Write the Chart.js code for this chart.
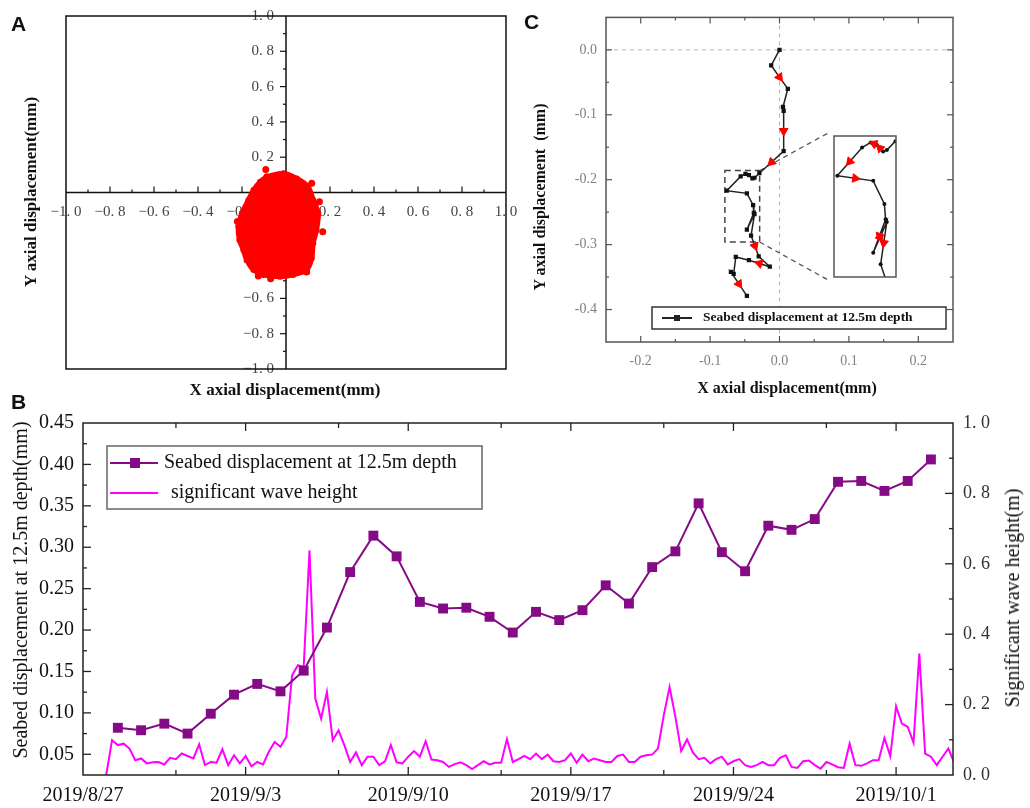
<!DOCTYPE html>
<html>
<head>
<meta charset="utf-8">
<title>Seabed displacement</title>
<script src="https://cdn.jsdelivr.net/npm/chart.js@4.4.1/dist/chart.umd.min.js"></script>
<style>
  body { margin: 0; background: #fff; }
  #fig { position: relative; width: 1030px; height: 808px; overflow: hidden; font-family: "Liberation Serif", "Times New Roman", serif; color: #111; }
  #fig canvas { position: absolute; }
  .lbl { position: absolute; white-space: pre; line-height: 1; transform: translate(-50%, -50%); }
  .up { transform: translate(-50%, -50%) rotate(-90deg); }
  .b { font-weight: bold; }
  .letter { position: absolute; line-height: 1; font: bold 21px "Liberation Sans", Arial, sans-serif; }
</style>
</head>
<body>
<div id="fig">
  <canvas id="chartA" width="520" height="400" style="left:0px;top:0px"></canvas>
  <canvas id="chartC" width="510" height="400" style="left:520px;top:0px"></canvas>
  <canvas id="chartInset" width="74" height="153" style="left:828px;top:130px"></canvas>
  <canvas id="chartB" width="1030" height="408" style="left:0px;top:400px"></canvas>

  <div class="letter" style="left:11px;top:12px">A</div>
  <div class="letter" style="left:11px;top:390px">B</div>
  <div class="letter" style="left:524px;top:10px">C</div>

  <div class="lbl b" style="left:285px;top:389px;font-size:17px">X axial displacement(mm)</div>
  <div class="lbl b up" style="left:30px;top:192px;font-size:17px">Y axial displacement(mm)</div>
  <div class="lbl b" style="left:787px;top:388px;font-size:16px">X axial displacement(mm)</div>
  <div class="lbl b up" style="left:540px;top:197px;font-size:16px">Y axial displacement  (mm)</div>
  <div class="lbl up" style="left:20px;top:590px;font-size:20px">Seabed displacement at 12.5m depth(mm)</div>
  <div class="lbl up" style="left:1012px;top:598px;font-size:20px">Significant wave height(m)</div>
</div>

<script>
var SERIF = '"Liberation Serif", "Times New Roman", serif';

//////////////////////////////// DATA ////////////////////////////////

// panel A : outline of the red point cloud (mm) plus a few stray points
var cloudX = [-0.088, -0.012, 0.049, 0.101, 0.124, 0.147, 0.139, 0.124, 0.117, 0.094, 0.033, -0.027,
              -0.103, -0.148, -0.179, -0.194, -0.212, -0.217, -0.201, -0.171, -0.148, -0.118];
var cloudY = [0.090, 0.109, 0.080, 0.033, -0.042, -0.118, -0.212, -0.288, -0.373, -0.439, -0.467, -0.477,
              -0.467, -0.439, -0.382, -0.326, -0.269, -0.194, -0.118, -0.042, 0.014, 0.061];
var strayX = [-0.092, 0.117, 0.167, -0.126, -0.070, -0.221, 0.152, 0.094];
var strayY = [0.131, 0.052, -0.222, -0.473, -0.488, -0.165, -0.052, -0.450];
var ticksA = [-1.0, -0.8, -0.6, -0.4, -0.2, 0, 0.2, 0.4, 0.6, 0.8, 1.0];

// panel C : daily trajectory of the seabed point (mm)
var pathX = [0, -0.012, 0.012, 0.005, 0.006, 0.006, -0.029, -0.036, -0.039, -0.044, -0.049, -0.056, -0.076,
             -0.047, -0.038, -0.037, -0.047, -0.036, -0.041, -0.030, -0.014, -0.044, -0.063, -0.066, -0.070, -0.047];
var pathY = [0, -0.024, -0.060, -0.088, -0.094, -0.156, -0.190, -0.197, -0.198, -0.193, -0.191, -0.195, -0.217,
             -0.221, -0.239, -0.251, -0.277, -0.253, -0.286, -0.318, -0.334, -0.324, -0.319, -0.345, -0.342, -0.379];
// red arrows sit in the middle of these segments (index of segment start)
var arrowSegments = [1, 4, 5, 18, 20, 24];
var insetArrowSegments = [8, 9, 11, 12, 15, 16, 17];
// zoomed window (the dashed box)
var boxX = [-0.0787, -0.0286];
var boxY = [-0.296, -0.186];
var ticksCx = [-0.2, -0.1, 0, 0.1, 0.2];
var ticksCy = [-0.4, -0.3, -0.2, -0.1, 0];

// panel B : days counted from 2019/8/27 00:00
var dispStartDay = 1.5;            // one value per day, at noon, from 2019/8/28
var dispValues = [0.082, 0.079, 0.087, 0.075, 0.099, 0.122, 0.135, 0.126, 0.151, 0.203, 0.270, 0.314,
                  0.289, 0.234, 0.226, 0.227, 0.216, 0.197, 0.222, 0.212, 0.224, 0.254, 0.232, 0.276,
                  0.295, 0.353, 0.294, 0.271, 0.326, 0.321, 0.334, 0.379, 0.380, 0.368, 0.380, 0.406];
var waveStartDay = 1.0;            // one value every 6 hours
var waveStepDay = 0.25;
var waveValues = [
  0.000, 0.099, 0.085, 0.089, 0.075, 0.042, 0.047, 0.033, 0.036, 0.037, 0.030, 0.049,
  0.045, 0.061, 0.054, 0.047, 0.087, 0.028, 0.037, 0.035, 0.073, 0.028, 0.056, 0.033,
  0.054, 0.025, 0.037, 0.030, 0.066, 0.094, 0.080, 0.108, 0.283, 0.312, 0.307, 0.638,
  0.217, 0.160, 0.236, 0.099, 0.127, 0.085, 0.037, 0.064, 0.028, 0.052, 0.052, 0.028,
  0.039, 0.085, 0.036, 0.033, 0.052, 0.068, 0.052, 0.096, 0.044, 0.042, 0.037, 0.023,
  0.031, 0.036, 0.028, 0.017, 0.028, 0.039, 0.030, 0.035, 0.035, 0.102, 0.037, 0.045,
  0.054, 0.045, 0.061, 0.045, 0.058, 0.039, 0.037, 0.042, 0.061, 0.035, 0.058, 0.039,
  0.047, 0.042, 0.037, 0.037, 0.054, 0.058, 0.037, 0.037, 0.052, 0.056, 0.058, 0.075,
  0.170, 0.250, 0.165, 0.068, 0.101, 0.064, 0.045, 0.049, 0.033, 0.045, 0.052, 0.030,
  0.039, 0.045, 0.028, 0.023, 0.028, 0.037, 0.028, 0.028, 0.049, 0.056, 0.023, 0.020,
  0.039, 0.041, 0.028, 0.018, 0.037, 0.030, 0.022, 0.020, 0.089, 0.028, 0.026, 0.033,
  0.042, 0.042, 0.105, 0.054, 0.195, 0.146, 0.137, 0.092, 0.345, 0.061, 0.052, 0.028,
  0.052, 0.075, 0.035];
var dateTickDays = [0, 7, 14, 21, 28, 35];
var dateMinorDays = [4, 11, 18, 25, 32];
var ticksBleft = [0.05, 0.10, 0.15, 0.20, 0.25, 0.30, 0.35, 0.40, 0.45];
var ticksBright = [0, 0.2, 0.4, 0.6, 0.8, 1.0];

/////////////////////////////// HELPERS ///////////////////////////////

var dayLabel = function(day) {
  var d = new Date(2019, 7, 27 + day);
  return d.getFullYear() + '/' + (d.getMonth() + 1) + '/' + d.getDate();
};
// the figure prints "0. 8" with a wide gap after the point
var spaced = function(v) {
  return v.toFixed(1).replace('.', '. ');
};
var seg = function(ctx, x1, y1, x2, y2) {
  ctx.beginPath();
  ctx.moveTo(x1, y1);
  ctx.lineTo(x2, y2);
  ctx.stroke();
};
var fixTicks = function(list) {
  return function(scale) {
    scale.ticks = list.map(function(v) { return {value: v}; });
  };
};
var points = function(xs, ys) {
  return xs.map(function(x, i) { return {x: x, y: ys[i]}; });
};
var arrowPoints = function(segs) {
  return segs.map(function(s) {
    return {x: (pathX[s] + pathX[s + 1]) / 2, y: (pathY[s] + pathY[s + 1]) / 2};
  });
};
// turn the triangle so it points along its segment
var arrowRotation = function(segs) {
  return function(c) {
    var s = segs[c.dataIndex], xs = c.chart.scales.x, ys = c.chart.scales.y;
    if (s === undefined) return 0;
    var dx = xs.getPixelForValue(pathX[s + 1]) - xs.getPixelForValue(pathX[s]);
    var dy = ys.getPixelForValue(pathY[s + 1]) - ys.getPixelForValue(pathY[s]);
    return Math.atan2(dx, -dy) * 180 / Math.PI;
  };
};

Chart.defaults.font.family = SERIF;
Chart.defaults.animation = false;
Chart.defaults.responsive = false;
Chart.defaults.devicePixelRatio = 1;
Chart.defaults.plugins.legend.display = false;
Chart.defaults.plugins.tooltip.enabled = false;

/////////////////////////////// PANEL A ///////////////////////////////

var cloud = points(cloudX, cloudY);
cloud.push(cloud[0]);

var panelA = {
  id: 'panelA',
  beforeDatasetsDraw: function(chart) {
    var ctx = chart.ctx, xs = chart.scales.x, ys = chart.scales.y, a = chart.chartArea;
    var x0 = xs.getPixelForValue(0), y0 = ys.getPixelForValue(0);
    ctx.save();
    ctx.strokeStyle = '#111';
    ctx.lineWidth = 1.5;
    seg(ctx, a.left, y0, a.right, y0);
    seg(ctx, x0, a.top, x0, a.bottom);
    ctx.lineWidth = 1.2;
    for (var i = -9; i <= 9; i++) {
      var len = (i % 2 === 0) ? 6 : 3;
      seg(ctx, xs.getPixelForValue(i / 10), y0, xs.getPixelForValue(i / 10), y0 - len);
      seg(ctx, x0, ys.getPixelForValue(i / 10), x0 - len, ys.getPixelForValue(i / 10));
    }
    ctx.fillStyle = '#444';
    ctx.font = '15px ' + SERIF;
    ctx.textBaseline = 'middle';
    ctx.textAlign = 'center';
    ticksA.forEach(function(v) {
      if (v !== 0) ctx.fillText(spaced(v).replace('-', '\u2212'), xs.getPixelForValue(v), y0 + 20);
    });
    ctx.textAlign = 'right';
    ticksA.forEach(function(v) {
      if (v !== 0) ctx.fillText(spaced(v).replace('-', '\u2212'), x0 - 12, ys.getPixelForValue(v));
    });
    ctx.restore();
  },
  afterDatasetsDraw: function(chart) {
    var ctx = chart.ctx, a = chart.chartArea;
    ctx.save();
    ctx.strokeStyle = '#111';
    ctx.lineWidth = 1.5;
    ctx.strokeRect(a.left, a.top, a.right - a.left, a.bottom - a.top);
    ctx.restore();
  }
};

new Chart(document.getElementById('chartA'), {
  type: 'line',
  data: {
    datasets: [
      {data: points(strayX, strayY), showLine: false, pointRadius: 3.5, pointBackgroundColor: '#ff0000',
       pointBorderWidth: 0},
      {data: cloud, fill: 'shape', backgroundColor: '#ff0000', borderColor: '#ff0000', borderWidth: 5,
       tension: 0.25, pointRadius: 3, pointBackgroundColor: '#ff0000', pointBorderWidth: 0}
    ]
  },
  options: {
    layout: {padding: {left: 66, top: 16, right: 14, bottom: 31}},
    scales: {
      x: {type: 'linear', min: -1, max: 1, display: false},
      y: {type: 'linear', min: -1, max: 1, display: false}
    }
  },
  plugins: [panelA]
});

/////////////////////////////// PANEL C ///////////////////////////////

var path = points(pathX, pathY);

var drawFrameTicks = function(ctx, a, xs, ys, xStep, yStep, color) {
  ctx.save();
  ctx.strokeStyle = color;
  ctx.lineWidth = 1.5;
  ctx.strokeRect(a.left, a.top, a.right - a.left, a.bottom - a.top);
  ctx.lineWidth = 1.2;
  var v, k, len, p;
  for (k = Math.ceil(xs.min / xStep + 0.01); k * xStep < xs.max - 1e-6; k++) {
    v = k * xStep;
    len = (k % 2 === 0) ? 6 : 3;
    p = xs.getPixelForValue(v);
    seg(ctx, p, a.bottom, p, a.bottom - len);
    seg(ctx, p, a.top, p, a.top + len);
  }
  for (k = Math.ceil(ys.min / yStep + 0.01); k * yStep < ys.max - 1e-6; k++) {
    v = k * yStep;
    len = (k % 2 === 0) ? 6 : 3;
    p = ys.getPixelForValue(v);
    seg(ctx, a.left, p, a.left + len, p);
    seg(ctx, a.right, p, a.right - len, p);
  }
  ctx.restore();
};

var insetLeft = 310, insetTop = 132, insetBottom = 281;   // in chart C pixels

var panelC = {
  id: 'panelC',
  beforeDatasetsDraw: function(chart) {
    var ctx = chart.ctx, xs = chart.scales.x, ys = chart.scales.y, a = chart.chartArea;
    ctx.save();
    ctx.strokeStyle = '#b5b5b5';
    ctx.lineWidth = 1;
    ctx.setLineDash([4, 4]);
    seg(ctx, a.left, ys.getPixelForValue(0), a.right, ys.getPixelForValue(0));
    seg(ctx, xs.getPixelForValue(0), a.top, xs.getPixelForValue(0), a.bottom);
    var bl = xs.getPixelForValue(boxX[0]), br = xs.getPixelForValue(boxX[1]);
    var bt = ys.getPixelForValue(boxY[1]), bb = ys.getPixelForValue(boxY[0]);
    ctx.strokeStyle = '#444';
    ctx.lineWidth = 1.5;
    ctx.setLineDash([6, 4]);
    ctx.strokeRect(bl, bt, br - bl, bb - bt);
    ctx.strokeStyle = '#555';
    ctx.lineWidth = 1.3;
    ctx.setLineDash([5, 4]);
    seg(ctx, br, bt, insetLeft, insetTop);
    seg(ctx, br, bb, insetLeft, insetBottom);
    ctx.restore();
  },
  afterDatasetsDraw: function(chart) {
    var ctx = chart.ctx, a = chart.chartArea;
    drawFrameTicks(ctx, a, chart.scales.x, chart.scales.y, 0.05, 0.05, '#555');
    // legend box
    var ds = chart.data.datasets[1];
    ctx.save();
    ctx.fillStyle = '#fff';
    ctx.fillRect(132, 307, 294, 22);
    ctx.strokeStyle = '#333';
    ctx.lineWidth = 1.5;
    ctx.strokeRect(132, 307, 294, 22);
    ctx.strokeStyle = ds.borderColor;
    ctx.lineWidth = 2;
    seg(ctx, 142, 318, 172, 318);
    ctx.fillStyle = ds.borderColor;
    ctx.fillRect(154, 315, 6, 6);
    ctx.fillStyle = '#111';
    ctx.font = 'bold 13.5px ' + SERIF;
    ctx.textAlign = 'left';
    ctx.textBaseline = 'middle';
    ctx.fillText(ds.label, 183, 318);
    ctx.restore();
  }
};

var pathDataset = {
  label: 'Seabed displacement at 12.5m depth', data: path, borderColor: '#222', borderWidth: 1.5,
  pointStyle: 'rect', pointRadius: 3, pointBackgroundColor: '#111', pointBorderWidth: 0, tension: 0
};

new Chart(document.getElementById('chartC'), {
  type: 'line',
  data: {
    datasets: [
      {label: 'direction', data: arrowPoints(arrowSegments), showLine: false, pointStyle: 'triangle',
       pointRadius: 5, pointBackgroundColor: '#ff0000', pointBorderColor: '#ff0000', pointBorderWidth: 1,
       pointRotation: arrowRotation(arrowSegments)},
      pathDataset
    ]
  },
  options: {
    layout: {padding: {left: 0, top: 17, right: 77, bottom: 0}},
    scales: {
      x: {type: 'linear', min: -0.25, max: 0.25, grid: {display: false, drawTicks: false}, border: {display: false},
          afterBuildTicks: fixTicks(ticksCx), afterFit: function(s) { s.height = 58; },
          ticks: {padding: 11, color: '#808080', font: {size: 14}, maxRotation: 0, autoSkip: false,
                  callback: function(v) { return v.toFixed(1); }}},
      y: {type: 'linear', min: -0.45, max: 0.05, grid: {display: false, drawTicks: false}, border: {display: false},
          afterBuildTicks: fixTicks(ticksCy), afterFit: function(s) { s.width = 86; },
          ticks: {padding: 9, color: '#808080', font: {size: 14}, autoSkip: false,
                  callback: function(v) { return v.toFixed(1); }}}
    }
  },
  plugins: [panelC]
});

// magnified view of the dashed box
var insetFrame = {
  id: 'insetFrame',
  beforeDraw: function(chart) {
    var ctx = chart.ctx, a = chart.chartArea;
    ctx.save();
    ctx.fillStyle = '#fff';
    ctx.fillRect(a.left, a.top, a.right - a.left, a.bottom - a.top);
    ctx.restore();
  },
  afterDraw: function(chart) {
    var ctx = chart.ctx, a = chart.chartArea;
    ctx.save();
    ctx.strokeStyle = '#555';
    ctx.lineWidth = 1.5;
    ctx.strokeRect(a.left, a.top, a.right - a.left, a.bottom - a.top);
    ctx.restore();
  }
};

new Chart(document.getElementById('chartInset'), {
  type: 'line',
  data: {
    datasets: [
      {data: arrowPoints(insetArrowSegments), showLine: false, pointStyle: 'triangle', pointRadius: 5,
       pointBackgroundColor: '#ff0000', pointBorderColor: '#ff0000', pointBorderWidth: 1,
       pointRotation: arrowRotation(insetArrowSegments), clip: 0},
      {data: path, borderColor: '#222', borderWidth: 1.5, pointStyle: 'circle', pointRadius: 2,
       pointBackgroundColor: '#111', pointBorderWidth: 0, tension: 0, clip: 0}
    ]
  },
  options: {
    layout: {padding: 2},
    scales: {
      x: {type: 'linear', min: boxX[0], max: boxX[1], display: false},
      y: {type: 'linear', min: boxY[0], max: boxY[1], display: false}
    }
  },
  plugins: [insetFrame]
});

/////////////////////////////// PANEL B ///////////////////////////////

var dispData = dispValues.map(function(v, i) { return {x: dispStartDay + i, y: v}; });
var waveData = waveValues.map(function(v, i) { return {x: waveStartDay + i * waveStepDay, y: v}; });

var panelB = {
  id: 'panelB',
  afterDatasetsDraw: function(chart) {
    var ctx = chart.ctx, a = chart.chartArea, xs = chart.scales.x, yl = chart.scales.y, yr = chart.scales.y2;
    ctx.save();
    ctx.strokeStyle = '#222';
    ctx.lineWidth = 1.5;
    ctx.strokeRect(a.left, a.top, a.right - a.left, a.bottom - a.top);
    ctx.lineWidth = 1.3;
    var p;
    dateTickDays.concat(dateMinorDays).forEach(function(d, i) {
      var len = i < dateTickDays.length ? 8 : 5;
      p = xs.getPixelForValue(d);
      if (p <= a.left + 1) return;
      seg(ctx, p, a.bottom, p, a.bottom - len);
      seg(ctx, p, a.top, p, a.top + len);
    });
    var k;
    for (k = 2; k < 18; k++) {
      p = yl.getPixelForValue(k * 0.025);
      seg(ctx, a.left, p, a.left + (k % 2 === 0 ? 8 : 4), p);
    }
    for (k = 1; k < 10; k++) {
      p = yr.getPixelForValue(k * 0.1);
      seg(ctx, a.right, p, a.right - (k % 2 === 0 ? 8 : 4), p);
    }
    // legend
    var ds = chart.data.datasets;
    ctx.fillStyle = '#fff';
    ctx.fillRect(107, 46, 375, 63);
    ctx.strokeStyle = '#666';
    ctx.lineWidth = 1.5;
    ctx.strokeRect(107, 46, 375, 63);
    ctx.lineWidth = 2;
    ctx.strokeStyle = ds[0].borderColor;
    seg(ctx, 110, 63, 158, 63);
    ctx.fillStyle = ds[0].borderColor;
    ctx.fillRect(130, 58, 10, 10);
    ctx.strokeStyle = ds[1].borderColor;
    seg(ctx, 110, 93, 158, 93);
    ctx.fillStyle = '#111';
    ctx.font = '20px ' + SERIF;
    ctx.textAlign = 'left';
    ctx.textBaseline = 'middle';
    ctx.fillText(ds[0].label, 164, 63);
    ctx.fillText(ds[1].label, 171, 93);
    ctx.restore();
  }
};

new Chart(document.getElementById('chartB'), {
  type: 'line',
  data: {
    datasets: [
      {label: 'Seabed displacement at 12.5m depth', data: dispData, yAxisID: 'y', borderColor: '#850a85',
       borderWidth: 2, pointStyle: 'rect', pointRadius: 7, pointBackgroundColor: '#850a85', pointBorderWidth: 0,
       tension: 0},
      {label: 'significant wave height', data: waveData, yAxisID: 'y2', borderColor: '#ff00ff',
       borderWidth: 2, pointRadius: 0, tension: 0}
    ]
  },
  options: {
    layout: {padding: {left: 0, top: 23, right: 0, bottom: 0}},
    scales: {
      x: {type: 'linear', min: 0, max: 37.45, grid: {display: false, drawTicks: false}, border: {display: false},
          afterBuildTicks: fixTicks(dateTickDays), afterFit: function(s) { s.height = 33; },
          ticks: {padding: 9, color: '#111', font: {size: 20}, maxRotation: 0, autoSkip: false,
                  callback: function(v) { return dayLabel(v); }}},
      y: {type: 'linear', position: 'left', min: 0.025, max: 0.45, grid: {display: false, drawTicks: false},
          border: {display: false}, afterBuildTicks: fixTicks(ticksBleft), afterFit: function(s) { s.width = 83; },
          ticks: {padding: 9, color: '#111', font: {size: 20}, autoSkip: false,
                  callback: function(v) { return v.toFixed(2); }}},
      y2: {type: 'linear', position: 'right', min: 0, max: 1, grid: {display: false, drawTicks: false},
           border: {display: false}, afterBuildTicks: fixTicks(ticksBright), afterFit: function(s) { s.width = 77; },
           ticks: {padding: 10, color: '#333', font: {size: 18}, autoSkip: false,
                   callback: function(v) { return spaced(v); }}}
    }
  },
  plugins: [panelB]
});
</script>
</body>
</html>
